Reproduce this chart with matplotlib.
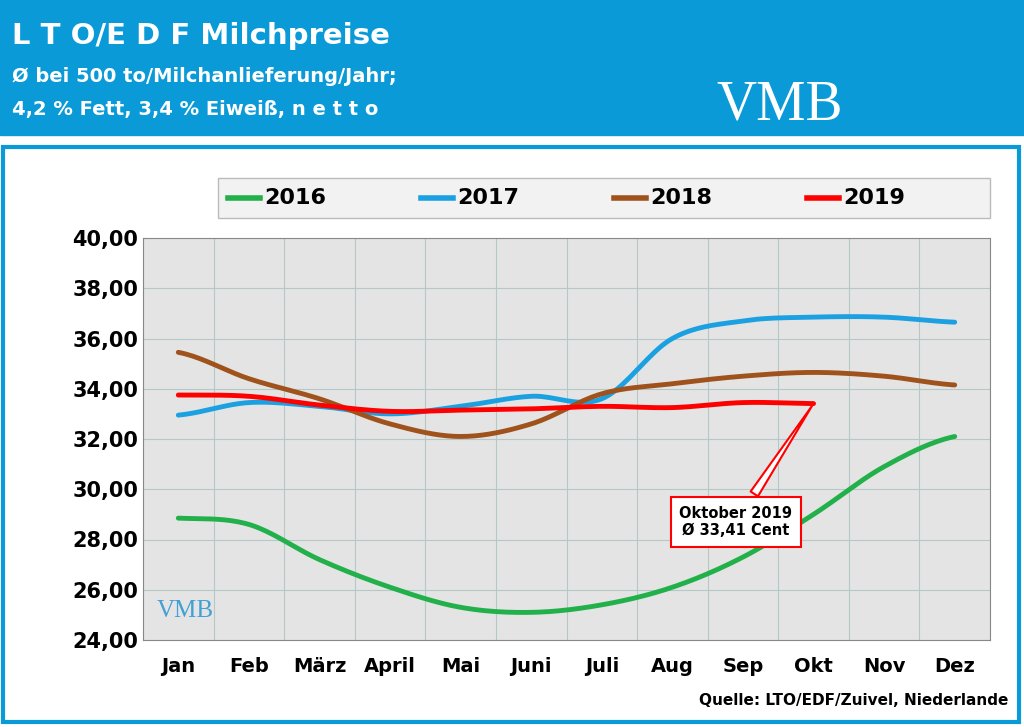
import numpy as np
import matplotlib.pyplot as plt
from matplotlib.patches import Rectangle, FancyBboxPatch

months = ["Jan", "Feb", "März", "April", "Mai", "Juni", "Juli", "Aug", "Sep", "Okt", "Nov", "Dez"]
p2016 = [28.85, 28.6, 27.2, 26.1, 25.3, 25.1, 25.4, 26.1, 27.3, 29.0, 30.9, 32.1]
p2017 = [32.95, 33.45, 33.3, 33.0, 33.3, 33.7, 33.6, 36.0, 36.7, 36.85, 36.85, 36.65]
p2018 = [35.45, 34.4, 33.6, 32.6, 32.1, 32.6, 33.8, 34.2, 34.5, 34.65, 34.5, 34.15]
p2019 = [33.75, 33.7, 33.35, 33.1, 33.15, 33.2, 33.3, 33.25, 33.45, 33.41]
series = [("2016", p2016, "#22b04a"), ("2017", p2017, "#1ba1e2"),
          ("2018", p2018, "#a0521c"), ("2019", p2019, "#ff0000")]
yticks = np.arange(24, 40.1, 2)


def smooth(y, n=20):
    """Catmull-Rom curve through the points (only for the line look)"""
    y = np.asarray(y, float)
    p = np.concatenate([[y[0]], y, [y[-1]]])
    xs, ys = [], []
    for i in range(len(y) - 1):
        t = np.linspace(0, 1, n, endpoint=False)
        p0, p1, p2, p3 = p[i], p[i + 1], p[i + 2], p[i + 3]
        ys.append(0.5 * (2 * p1 + (-p0 + p2) * t + (2 * p0 - 5 * p1 + 4 * p2 - p3) * t**2
                         + (-p0 + 3 * p1 - 3 * p2 + p3) * t**3))
        xs.append(i + t)
    xs.append([len(y) - 1])
    ys.append([y[-1]])
    return np.concatenate(xs), np.concatenate(ys)


fig = plt.figure(figsize=(10.24, 7.27), dpi=100)
blue = "#0a9ad8"
fig.patches.append(Rectangle((0, 1 - 135 / 727), 1, 135 / 727, transform=fig.transFigure,
                             color=blue, zorder=0))
fig.patches.append(Rectangle((3 / 1024, 5 / 727), 1016 / 1024, 575 / 727, transform=fig.transFigure,
                             fill=False, edgecolor=blue, linewidth=3, zorder=0))
fig.text(0.012, 0.95, "L T O/E D F Milchpreise", color="white", fontsize=21, fontweight="bold", va="center")
fig.text(0.012, 0.895, "Ø bei 500 to/Milchanlieferung/Jahr;", color="white", fontsize=14, fontweight="bold", va="center")
fig.text(0.012, 0.85, "4,2 % Fett, 3,4 % Eiweiß, n e t t o", color="white", fontsize=14, fontweight="bold", va="center")
fig.text(0.70, 0.855, "VMB", color="white", fontsize=40, family="Liberation Serif", va="center")

# legend box
fig.patches.append(Rectangle((218 / 1024, 1 - 218 / 727), 772 / 1024, 40 / 727, transform=fig.transFigure,
                             facecolor="#f2f2f2", edgecolor="#bbbbbb", zorder=1))
for i, (lab, _, c) in enumerate(series):
    x0 = (228 + i * 193) / 1024
    y0 = 1 - 198 / 727
    fig.lines.append(plt.Line2D([x0, x0 + 32 / 1024], [y0, y0], transform=fig.transFigure, color=c, lw=4))
    fig.text(x0 + 36 / 1024, y0, lab, fontsize=16, fontweight="bold", va="center")

ax = fig.add_axes([143 / 1024, 1 - 640 / 727, 847 / 1024, 402 / 727])
ax.set_facecolor("#e4e4e4")
for lab, vals, c in series:
    xs, ys = smooth(vals)
    ax.plot(xs, ys, color=c, lw=3.5, solid_capstyle="round")
ax.set_xlim(-0.5, 11.5)
ax.set_ylim(24, 40)
ax.set_yticks(yticks)
ax.set_yticklabels([f"{v:.2f}".replace(".", ",") for v in yticks], fontsize=15, fontweight="bold")
ax.set_xticks(range(12))
ax.set_xticklabels(months, fontsize=14, fontweight="bold")
ax.set_xticks(np.arange(-0.5, 11.6, 0.5), minor=True)
ax.grid(True, which="minor", axis="x", color="#b4c8c8", lw=0.8)
ax.grid(True, axis="y", color="#b4c8c8", lw=0.8)
ax.tick_params(which="both", length=0)
ax.tick_params(axis="x", pad=12)
for s in ax.spines.values():
    s.set_color("#888888")

ax.annotate("Oktober 2019\nØ 33,41 Cent", xy=(9, 33.41), xytext=(7.9, 28.7),
            ha="center", va="center", fontsize=10.5, fontweight="bold",
            bbox=dict(boxstyle="square,pad=0.6", fc="white", ec="red", lw=1.5),
            arrowprops=dict(arrowstyle="wedge,tail_width=0.6", fc="white", ec="red", lw=1.5))
ax.text(-0.3, 24.9, "VMB", color="#1a8fd0", fontsize=18, family="Liberation Serif", alpha=0.8)
fig.text(0.985, 0.03, "Quelle: LTO/EDF/Zuivel, Niederlande", fontsize=11, fontweight="bold", ha="right")

fig.savefig("out.png", dpi=100)
